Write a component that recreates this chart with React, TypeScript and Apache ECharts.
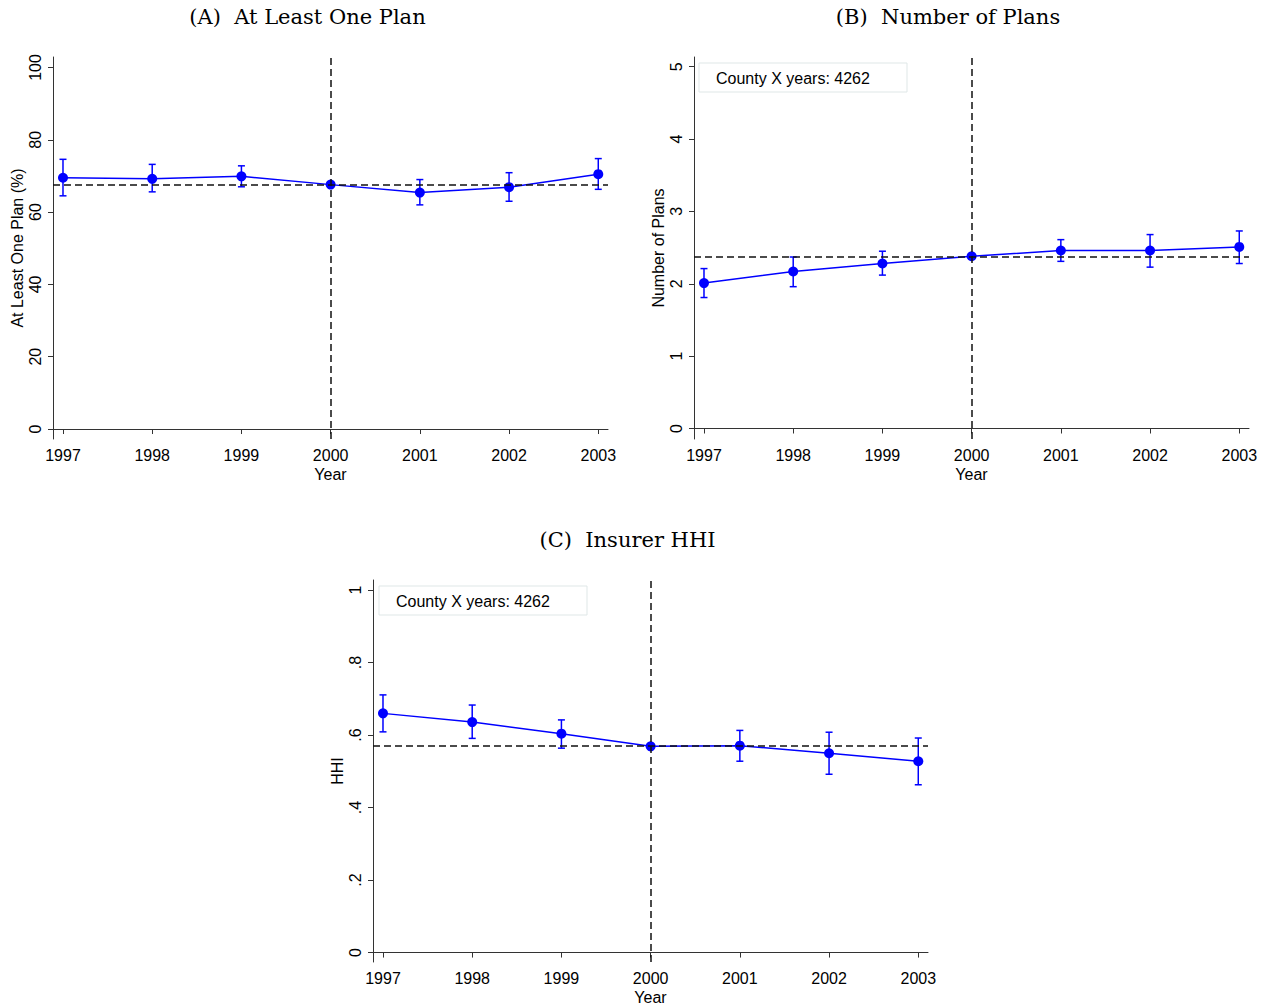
import React, { useEffect, useRef } from "react";
import * as echarts from "echarts";

// ---------- data ----------
const years = [1997, 1998, 1999, 2000, 2001, 2002, 2003];

const planEst = [69.5, 69.2, 69.9, 67.6, 65.4, 66.9, 70.5];
const planLo = [64.5, 65.6, 67.0, null, 62.0, 63.0, 66.3];
const planHi = [74.6, 73.2, 72.8, null, 69.0, 70.9, 74.8];
const planRef = 67.6;

const numEst = [2.01, 2.17, 2.28, 2.38, 2.46, 2.46, 2.51];
const numLo = [1.81, 1.96, 2.12, null, 2.31, 2.23, 2.28];
const numHi = [2.21, 2.37, 2.45, null, 2.61, 2.68, 2.73];
const numRef = 2.38;

const hhiEst = [0.66, 0.636, 0.604, 0.569, 0.571, 0.55, 0.528];
const hhiLo = [0.609, 0.591, 0.564, null, 0.528, 0.492, 0.463];
const hhiHi = [0.711, 0.683, 0.642, null, 0.613, 0.608, 0.592];
const hhiRef = 0.568;

const eventYear = 2000;

const yTicksA = [0, 20, 40, 60, 80, 100];
const yTicksB = [0, 1, 2, 3, 4, 5];
const yTicksC = [0, 0.2, 0.4, 0.6, 0.8, 1];

const panelTitles = ["(A)  At Least One Plan", "(B)  Number of Plans", "(C)  Insurer HHI"];
const yNames = ["At Least One Plan (%)", "Number of Plans", "HHI"];
const xName = "Year";
const noteText = "County X years: 4262";

// ---------- layout / style ----------
const SANS = "Liberation Sans, Arial, Helvetica, sans-serif";
const SERIF = "DejaVu Serif, serif";
const BLUE = "#0000ff";
const AXIS = "#333333";

const grids = [
  { left: 53, top: 57, width: 555, height: 382 },
  { left: 694, top: 57, width: 555, height: 382 },
  { left: 373, top: 580, width: 555, height: 382 },
];
const xRange = [1996.888, 2003.109];
const yRanges = [
  [-2.76, 102.9],
  [-0.145, 5.134],
  [-0.026, 1.028],
];

const panels = [
  { est: planEst, lo: planLo, hi: planHi, ref: planRef, ticks: yTicksA },
  { est: numEst, lo: numLo, hi: numHi, ref: numRef, ticks: yTicksB },
  { est: hhiEst, lo: hhiLo, hi: hhiHi, ref: hhiRef, ticks: yTicksC },
];

const fmtY = (i: number) => (v: number) => {
  if (i === 2) {
    if (v === 0) return "0";
    if (v === 1) return "1";
    return String(v).replace(/^0/, "");
  }
  return String(v);
};

export default function App() {
  const ref = useRef<HTMLDivElement>(null);

  useEffect(() => {
    if (!ref.current) return;
    const chart = echarts.init(ref.current, null, { renderer: "svg" });

    const xAxes = grids.map((_, i) => ({
      type: "value",
      gridIndex: i,
      min: xRange[0],
      max: xRange[1],
      name: xName,
      nameLocation: "middle",
      nameGap: 27,
      nameTextStyle: { color: "#000", fontSize: 16, fontFamily: SANS },
      axisLine: { show: true, lineStyle: { color: AXIS, width: 1 } },
      axisTick: { show: true, customValues: years, length: 5, lineStyle: { color: AXIS, width: 1 } },
      axisLabel: {
        customValues: years,
        color: "#000",
        fontSize: 16,
        fontFamily: SANS,
        margin: 8,
        formatter: (v: number) => String(v),
      },
      splitLine: { show: false },
    }));

    const yAxes = grids.map((_, i) => ({
      type: "value",
      gridIndex: i,
      min: yRanges[i][0],
      max: yRanges[i][1],
      name: yNames[i],
      nameLocation: "middle",
      nameGap: 28,
      nameRotate: 90,
      nameTextStyle: { color: "#000", fontSize: 16, fontFamily: SANS },
      axisLine: { show: true, lineStyle: { color: AXIS, width: 1 } },
      axisTick: { show: true, customValues: panels[i].ticks, length: 5, lineStyle: { color: AXIS, width: 1 } },
      axisLabel: {
        customValues: panels[i].ticks,
        rotate: 90,
        color: "#000",
        fontSize: 16,
        fontFamily: SANS,
        margin: 10,
        formatter: fmtY(i),
      },
      splitLine: { show: false },
    }));

    const series: any[] = [];
    panels.forEach((p, i) => {
      const bars = years
        .map((y, k) => (p.lo[k] == null ? null : [y, p.lo[k], p.hi[k]]))
        .filter((d) => d !== null);
      series.push({
        type: "custom",
        xAxisIndex: i,
        yAxisIndex: i,
        z: 2,
        data: bars,
        renderItem: (params: any, api: any) => {
          const x = api.value(0);
          const lo = api.coord([x, api.value(1)]);
          const hi = api.coord([x, api.value(2)]);
          const hw = 3.5;
          const style = { stroke: BLUE, lineWidth: 1.5 };
          return {
            type: "group",
            children: [
              { type: "line", shape: { x1: lo[0], y1: lo[1], x2: hi[0], y2: hi[1] }, style },
              { type: "line", shape: { x1: lo[0] - hw, y1: lo[1], x2: lo[0] + hw, y2: lo[1] }, style },
              { type: "line", shape: { x1: hi[0] - hw, y1: hi[1], x2: hi[0] + hw, y2: hi[1] }, style },
            ],
          };
        },
      });
      series.push({
        type: "line",
        xAxisIndex: i,
        yAxisIndex: i,
        z: 3,
        data: years.map((y, k) => [y, p.est[k]]),
        symbol: "circle",
        symbolSize: 10,
        itemStyle: { color: BLUE },
        lineStyle: { color: BLUE, width: 1.5 },
        markLine: {
          silent: true,
          symbol: ["none", "none"],
          label: { show: false },
          lineStyle: { color: "#111", width: 1.5, type: [7, 4] },
          data: [{ xAxis: eventYear }, { yAxis: p.ref }],
        },
      });
    });

    const titlePos = [
      [307.5, 17],
      [948, 17],
      [627.5, 540],
    ];
    const graphic: any[] = titlePos.map((pos, i) => ({
      type: "text",
      x: pos[0],
      y: pos[1],
      style: {
        text: panelTitles[i],
        fill: "#000",
        font: `21px ${SERIF}`,
        textAlign: "center",
        textVerticalAlign: "middle",
      },
    }));
    const boxes = [
      { x: 699, y: 63 },
      { x: 379, y: 586 },
    ];
    boxes.forEach((b) => {
      graphic.push({
        type: "rect",
        shape: { x: b.x, y: b.y, width: 208, height: 29 },
        style: { fill: "#fff", stroke: "#dfe7e7", lineWidth: 1 },
        z: 10,
      });
      graphic.push({
        type: "text",
        x: b.x + 17,
        y: b.y + 15,
        style: {
          text: noteText,
          fill: "#000",
          font: `16px ${SANS}`,
          textAlign: "left",
          textVerticalAlign: "middle",
        },
        z: 11,
      });
    });

    chart.setOption({
      animation: false,
      backgroundColor: "#fff",
      grid: grids.map((g) => ({ ...g, containLabel: false })),
      xAxis: xAxes,
      yAxis: yAxes,
      series,
      graphic,
    });

    return () => chart.dispose();
  }, []);

  return (
    <div
      ref={ref}
      style={{ position: "absolute", left: 0, top: 0, width: 1268, height: 1006, background: "#fff" }}
    />
  );
}
